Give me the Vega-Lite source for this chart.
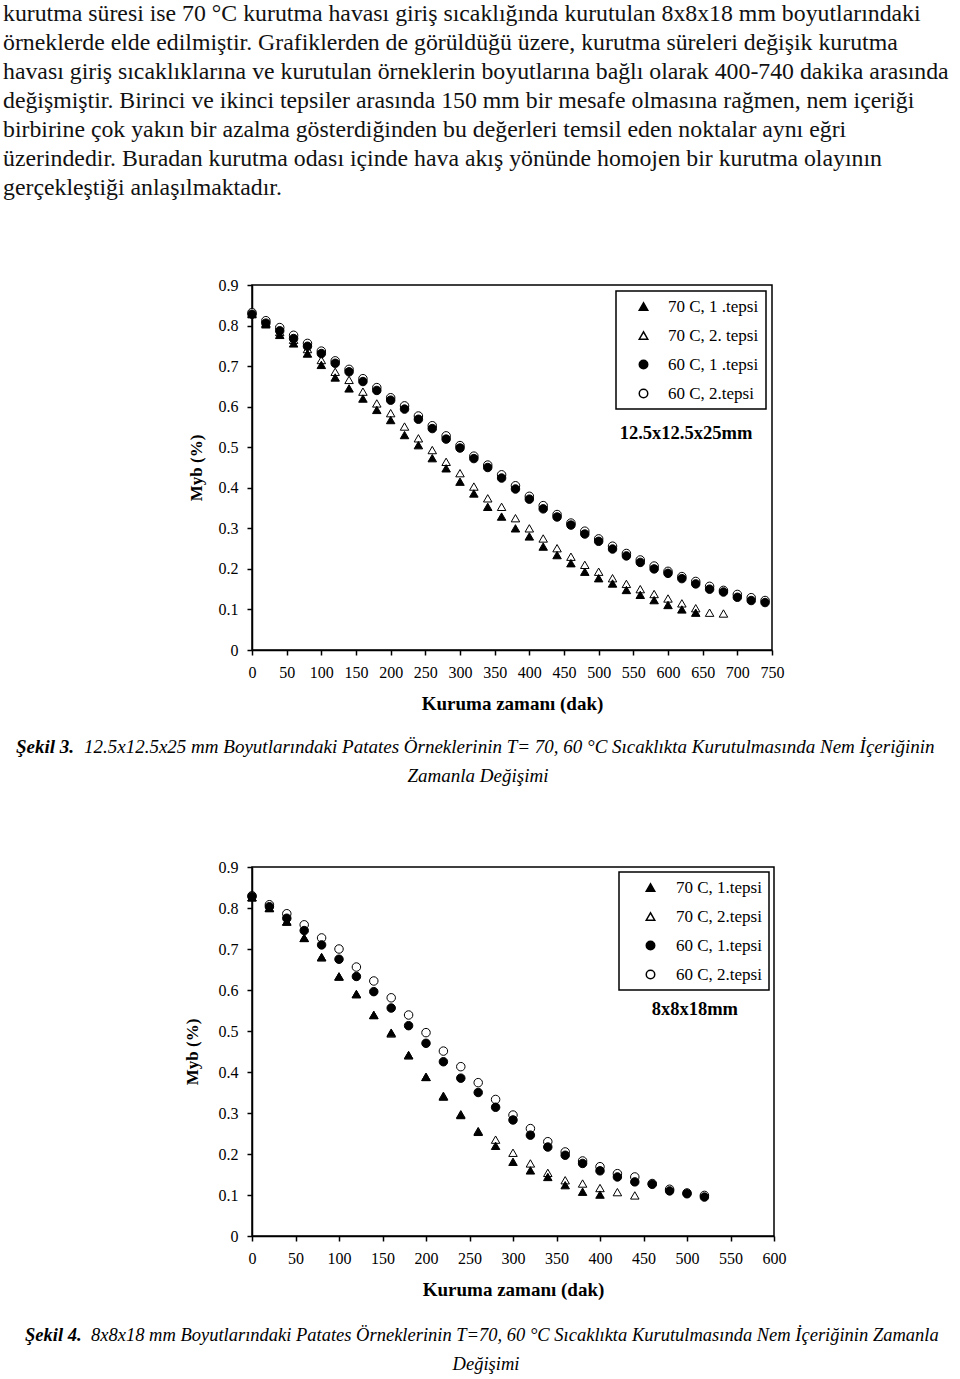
{
  "$schema": "https://vega.github.io/schema/vega-lite/v6.json",
  "padding": {"left": 3, "top": 0, "right": 0, "bottom": 0},
  "background": "white",
  "bounds": "flush",
  "spacing": 0,
  "config": {
    "font": "Liberation Serif",
    "view": {"stroke": null},
    "axis": {"domainColor": "black", "domainWidth": 1.5, "tickColor": "black", "tickWidth": 1.5, "tickSize": 5, "labelColor": "black", "labelFont": "Liberation Serif", "labelFontSize": 16, "titleFont": "Liberation Serif", "titleFontSize": 19, "titleFontWeight": "bold", "titleColor": "black", "grid": false, "labelFlush": false, "labelOverlap": false},
    "legend": {"strokeWidth": 1.5}
  },
  "resolve": {
    "scale": {"x": "independent", "y": "independent", "shape": "independent", "fill": "independent", "stroke": "independent"},
    "legend": {"shape": "independent", "fill": "independent", "stroke": "independent"}
  },
  "datasets": {
    "c1": [
      {"s": "70 C, 2. tepsi", "t": 0, "m": 0.830}, {"s": "70 C, 2. tepsi", "t": 20, "m": 0.806}, {"s": "70 C, 2. tepsi", "t": 40, "m": 0.784}, {"s": "70 C, 2. tepsi", "t": 60, "m": 0.765}, {"s": "70 C, 2. tepsi", "t": 80, "m": 0.742}, {"s": "70 C, 2. tepsi", "t": 100, "m": 0.715}, {"s": "70 C, 2. tepsi", "t": 120, "m": 0.686}, {"s": "70 C, 2. tepsi", "t": 140, "m": 0.666}, {"s": "70 C, 2. tepsi", "t": 160, "m": 0.637}, {"s": "70 C, 2. tepsi", "t": 180, "m": 0.608}, {"s": "70 C, 2. tepsi", "t": 200, "m": 0.584}, {"s": "70 C, 2. tepsi", "t": 220, "m": 0.551}, {"s": "70 C, 2. tepsi", "t": 240, "m": 0.522}, {"s": "70 C, 2. tepsi", "t": 260, "m": 0.493}, {"s": "70 C, 2. tepsi", "t": 280, "m": 0.464}, {"s": "70 C, 2. tepsi", "t": 300, "m": 0.436}, {"s": "70 C, 2. tepsi", "t": 320, "m": 0.403}, {"s": "70 C, 2. tepsi", "t": 340, "m": 0.374}, {"s": "70 C, 2. tepsi", "t": 360, "m": 0.353}, {"s": "70 C, 2. tepsi", "t": 380, "m": 0.325}, {"s": "70 C, 2. tepsi", "t": 400, "m": 0.300}, {"s": "70 C, 2. tepsi", "t": 420, "m": 0.275}, {"s": "70 C, 2. tepsi", "t": 440, "m": 0.251}, {"s": "70 C, 2. tepsi", "t": 460, "m": 0.230}, {"s": "70 C, 2. tepsi", "t": 480, "m": 0.210}, {"s": "70 C, 2. tepsi", "t": 500, "m": 0.193}, {"s": "70 C, 2. tepsi", "t": 520, "m": 0.177}, {"s": "70 C, 2. tepsi", "t": 540, "m": 0.163}, {"s": "70 C, 2. tepsi", "t": 560, "m": 0.150}, {"s": "70 C, 2. tepsi", "t": 580, "m": 0.138}, {"s": "70 C, 2. tepsi", "t": 600, "m": 0.127}, {"s": "70 C, 2. tepsi", "t": 620, "m": 0.115}, {"s": "70 C, 2. tepsi", "t": 640, "m": 0.103}, {"s": "70 C, 2. tepsi", "t": 660, "m": 0.092}, {"s": "70 C, 2. tepsi", "t": 680, "m": 0.090},
      {"s": "70 C, 1 .tepsi", "t": 0, "m": 0.828}, {"s": "70 C, 1 .tepsi", "t": 20, "m": 0.803}, {"s": "70 C, 1 .tepsi", "t": 40, "m": 0.777}, {"s": "70 C, 1 .tepsi", "t": 60, "m": 0.756}, {"s": "70 C, 1 .tepsi", "t": 80, "m": 0.731}, {"s": "70 C, 1 .tepsi", "t": 100, "m": 0.703}, {"s": "70 C, 1 .tepsi", "t": 120, "m": 0.672}, {"s": "70 C, 1 .tepsi", "t": 140, "m": 0.645}, {"s": "70 C, 1 .tepsi", "t": 160, "m": 0.620}, {"s": "70 C, 1 .tepsi", "t": 180, "m": 0.592}, {"s": "70 C, 1 .tepsi", "t": 200, "m": 0.567}, {"s": "70 C, 1 .tepsi", "t": 220, "m": 0.530}, {"s": "70 C, 1 .tepsi", "t": 240, "m": 0.505}, {"s": "70 C, 1 .tepsi", "t": 260, "m": 0.473}, {"s": "70 C, 1 .tepsi", "t": 280, "m": 0.448}, {"s": "70 C, 1 .tepsi", "t": 300, "m": 0.415}, {"s": "70 C, 1 .tepsi", "t": 320, "m": 0.386}, {"s": "70 C, 1 .tepsi", "t": 340, "m": 0.353}, {"s": "70 C, 1 .tepsi", "t": 360, "m": 0.329}, {"s": "70 C, 1 .tepsi", "t": 380, "m": 0.300}, {"s": "70 C, 1 .tepsi", "t": 400, "m": 0.280}, {"s": "70 C, 1 .tepsi", "t": 420, "m": 0.255}, {"s": "70 C, 1 .tepsi", "t": 440, "m": 0.234}, {"s": "70 C, 1 .tepsi", "t": 460, "m": 0.214}, {"s": "70 C, 1 .tepsi", "t": 480, "m": 0.193}, {"s": "70 C, 1 .tepsi", "t": 500, "m": 0.177}, {"s": "70 C, 1 .tepsi", "t": 520, "m": 0.164}, {"s": "70 C, 1 .tepsi", "t": 540, "m": 0.148}, {"s": "70 C, 1 .tepsi", "t": 560, "m": 0.136}, {"s": "70 C, 1 .tepsi", "t": 580, "m": 0.123}, {"s": "70 C, 1 .tepsi", "t": 600, "m": 0.111}, {"s": "70 C, 1 .tepsi", "t": 620, "m": 0.100}, {"s": "70 C, 1 .tepsi", "t": 640, "m": 0.092},
      {"s": "60 C, 2.tepsi", "t": 0, "m": 0.832}, {"s": "60 C, 2.tepsi", "t": 20, "m": 0.812}, {"s": "60 C, 2.tepsi", "t": 40, "m": 0.795}, {"s": "60 C, 2.tepsi", "t": 60, "m": 0.776}, {"s": "60 C, 2.tepsi", "t": 80, "m": 0.756}, {"s": "60 C, 2.tepsi", "t": 100, "m": 0.737}, {"s": "60 C, 2.tepsi", "t": 120, "m": 0.713}, {"s": "60 C, 2.tepsi", "t": 140, "m": 0.692}, {"s": "60 C, 2.tepsi", "t": 160, "m": 0.669}, {"s": "60 C, 2.tepsi", "t": 180, "m": 0.647}, {"s": "60 C, 2.tepsi", "t": 200, "m": 0.622}, {"s": "60 C, 2.tepsi", "t": 220, "m": 0.602}, {"s": "60 C, 2.tepsi", "t": 240, "m": 0.577}, {"s": "60 C, 2.tepsi", "t": 260, "m": 0.553}, {"s": "60 C, 2.tepsi", "t": 280, "m": 0.528}, {"s": "60 C, 2.tepsi", "t": 300, "m": 0.504}, {"s": "60 C, 2.tepsi", "t": 320, "m": 0.478}, {"s": "60 C, 2.tepsi", "t": 340, "m": 0.456}, {"s": "60 C, 2.tepsi", "t": 360, "m": 0.432}, {"s": "60 C, 2.tepsi", "t": 380, "m": 0.405}, {"s": "60 C, 2.tepsi", "t": 400, "m": 0.379}, {"s": "60 C, 2.tepsi", "t": 420, "m": 0.356}, {"s": "60 C, 2.tepsi", "t": 440, "m": 0.334}, {"s": "60 C, 2.tepsi", "t": 460, "m": 0.313}, {"s": "60 C, 2.tepsi", "t": 480, "m": 0.293}, {"s": "60 C, 2.tepsi", "t": 500, "m": 0.274}, {"s": "60 C, 2.tepsi", "t": 520, "m": 0.256}, {"s": "60 C, 2.tepsi", "t": 540, "m": 0.238}, {"s": "60 C, 2.tepsi", "t": 560, "m": 0.222}, {"s": "60 C, 2.tepsi", "t": 580, "m": 0.207}, {"s": "60 C, 2.tepsi", "t": 600, "m": 0.194}, {"s": "60 C, 2.tepsi", "t": 620, "m": 0.181}, {"s": "60 C, 2.tepsi", "t": 640, "m": 0.169}, {"s": "60 C, 2.tepsi", "t": 660, "m": 0.157}, {"s": "60 C, 2.tepsi", "t": 680, "m": 0.147}, {"s": "60 C, 2.tepsi", "t": 700, "m": 0.137}, {"s": "60 C, 2.tepsi", "t": 720, "m": 0.129}, {"s": "60 C, 2.tepsi", "t": 740, "m": 0.122},
      {"s": "60 C, 1 .tepsi", "t": 0, "m": 0.828}, {"s": "60 C, 1 .tepsi", "t": 20, "m": 0.806}, {"s": "60 C, 1 .tepsi", "t": 40, "m": 0.787}, {"s": "60 C, 1 .tepsi", "t": 60, "m": 0.768}, {"s": "60 C, 1 .tepsi", "t": 80, "m": 0.749}, {"s": "60 C, 1 .tepsi", "t": 100, "m": 0.731}, {"s": "60 C, 1 .tepsi", "t": 120, "m": 0.707}, {"s": "60 C, 1 .tepsi", "t": 140, "m": 0.686}, {"s": "60 C, 1 .tepsi", "t": 160, "m": 0.662}, {"s": "60 C, 1 .tepsi", "t": 180, "m": 0.640}, {"s": "60 C, 1 .tepsi", "t": 200, "m": 0.616}, {"s": "60 C, 1 .tepsi", "t": 220, "m": 0.594}, {"s": "60 C, 1 .tepsi", "t": 240, "m": 0.569}, {"s": "60 C, 1 .tepsi", "t": 260, "m": 0.546}, {"s": "60 C, 1 .tepsi", "t": 280, "m": 0.520}, {"s": "60 C, 1 .tepsi", "t": 300, "m": 0.498}, {"s": "60 C, 1 .tepsi", "t": 320, "m": 0.472}, {"s": "60 C, 1 .tepsi", "t": 340, "m": 0.450}, {"s": "60 C, 1 .tepsi", "t": 360, "m": 0.424}, {"s": "60 C, 1 .tepsi", "t": 380, "m": 0.397}, {"s": "60 C, 1 .tepsi", "t": 400, "m": 0.372}, {"s": "60 C, 1 .tepsi", "t": 420, "m": 0.348}, {"s": "60 C, 1 .tepsi", "t": 440, "m": 0.328}, {"s": "60 C, 1 .tepsi", "t": 460, "m": 0.308}, {"s": "60 C, 1 .tepsi", "t": 480, "m": 0.286}, {"s": "60 C, 1 .tepsi", "t": 500, "m": 0.268}, {"s": "60 C, 1 .tepsi", "t": 520, "m": 0.249}, {"s": "60 C, 1 .tepsi", "t": 540, "m": 0.232}, {"s": "60 C, 1 .tepsi", "t": 560, "m": 0.216}, {"s": "60 C, 1 .tepsi", "t": 580, "m": 0.200}, {"s": "60 C, 1 .tepsi", "t": 600, "m": 0.189}, {"s": "60 C, 1 .tepsi", "t": 620, "m": 0.176}, {"s": "60 C, 1 .tepsi", "t": 640, "m": 0.163}, {"s": "60 C, 1 .tepsi", "t": 660, "m": 0.150}, {"s": "60 C, 1 .tepsi", "t": 680, "m": 0.143}, {"s": "60 C, 1 .tepsi", "t": 700, "m": 0.130}, {"s": "60 C, 1 .tepsi", "t": 720, "m": 0.122}, {"s": "60 C, 1 .tepsi", "t": 740, "m": 0.117}
    ],
    "c2": [
      {"s": "70 C, 2.tepsi", "t": 0, "m": 0.826}, {"s": "70 C, 2.tepsi", "t": 20, "m": 0.800}, {"s": "70 C, 2.tepsi", "t": 40, "m": 0.767}, {"s": "70 C, 2.tepsi", "t": 60, "m": 0.727}, {"s": "70 C, 2.tepsi", "t": 80, "m": 0.680}, {"s": "70 C, 2.tepsi", "t": 100, "m": 0.633}, {"s": "70 C, 2.tepsi", "t": 120, "m": 0.590}, {"s": "70 C, 2.tepsi", "t": 140, "m": 0.539}, {"s": "70 C, 2.tepsi", "t": 160, "m": 0.494}, {"s": "70 C, 2.tepsi", "t": 180, "m": 0.441}, {"s": "70 C, 2.tepsi", "t": 200, "m": 0.388}, {"s": "70 C, 2.tepsi", "t": 220, "m": 0.342}, {"s": "70 C, 2.tepsi", "t": 240, "m": 0.297}, {"s": "70 C, 2.tepsi", "t": 260, "m": 0.256}, {"s": "70 C, 2.tepsi", "t": 280, "m": 0.235}, {"s": "70 C, 2.tepsi", "t": 300, "m": 0.203}, {"s": "70 C, 2.tepsi", "t": 320, "m": 0.177}, {"s": "70 C, 2.tepsi", "t": 340, "m": 0.154}, {"s": "70 C, 2.tepsi", "t": 360, "m": 0.136}, {"s": "70 C, 2.tepsi", "t": 380, "m": 0.128}, {"s": "70 C, 2.tepsi", "t": 400, "m": 0.117}, {"s": "70 C, 2.tepsi", "t": 420, "m": 0.107}, {"s": "70 C, 2.tepsi", "t": 440, "m": 0.099},
      {"s": "70 C, 1.tepsi", "t": 0, "m": 0.826}, {"s": "70 C, 1.tepsi", "t": 20, "m": 0.800}, {"s": "70 C, 1.tepsi", "t": 40, "m": 0.767}, {"s": "70 C, 1.tepsi", "t": 60, "m": 0.727}, {"s": "70 C, 1.tepsi", "t": 80, "m": 0.680}, {"s": "70 C, 1.tepsi", "t": 100, "m": 0.633}, {"s": "70 C, 1.tepsi", "t": 120, "m": 0.590}, {"s": "70 C, 1.tepsi", "t": 140, "m": 0.539}, {"s": "70 C, 1.tepsi", "t": 160, "m": 0.496}, {"s": "70 C, 1.tepsi", "t": 180, "m": 0.441}, {"s": "70 C, 1.tepsi", "t": 200, "m": 0.388}, {"s": "70 C, 1.tepsi", "t": 220, "m": 0.340}, {"s": "70 C, 1.tepsi", "t": 240, "m": 0.295}, {"s": "70 C, 1.tepsi", "t": 260, "m": 0.254}, {"s": "70 C, 1.tepsi", "t": 280, "m": 0.220}, {"s": "70 C, 1.tepsi", "t": 300, "m": 0.181}, {"s": "70 C, 1.tepsi", "t": 320, "m": 0.160}, {"s": "70 C, 1.tepsi", "t": 340, "m": 0.144}, {"s": "70 C, 1.tepsi", "t": 360, "m": 0.124}, {"s": "70 C, 1.tepsi", "t": 380, "m": 0.108}, {"s": "70 C, 1.tepsi", "t": 400, "m": 0.101},
      {"s": "60 C, 2.tepsi", "t": 0, "m": 0.830}, {"s": "60 C, 2.tepsi", "t": 20, "m": 0.808}, {"s": "60 C, 2.tepsi", "t": 40, "m": 0.786}, {"s": "60 C, 2.tepsi", "t": 60, "m": 0.759}, {"s": "60 C, 2.tepsi", "t": 80, "m": 0.727}, {"s": "60 C, 2.tepsi", "t": 100, "m": 0.700}, {"s": "60 C, 2.tepsi", "t": 120, "m": 0.656}, {"s": "60 C, 2.tepsi", "t": 140, "m": 0.622}, {"s": "60 C, 2.tepsi", "t": 160, "m": 0.581}, {"s": "60 C, 2.tepsi", "t": 180, "m": 0.539}, {"s": "60 C, 2.tepsi", "t": 200, "m": 0.496}, {"s": "60 C, 2.tepsi", "t": 220, "m": 0.451}, {"s": "60 C, 2.tepsi", "t": 240, "m": 0.413}, {"s": "60 C, 2.tepsi", "t": 260, "m": 0.374}, {"s": "60 C, 2.tepsi", "t": 280, "m": 0.333}, {"s": "60 C, 2.tepsi", "t": 300, "m": 0.295}, {"s": "60 C, 2.tepsi", "t": 320, "m": 0.262}, {"s": "60 C, 2.tepsi", "t": 340, "m": 0.230}, {"s": "60 C, 2.tepsi", "t": 360, "m": 0.205}, {"s": "60 C, 2.tepsi", "t": 380, "m": 0.183}, {"s": "60 C, 2.tepsi", "t": 400, "m": 0.169}, {"s": "60 C, 2.tepsi", "t": 420, "m": 0.152}, {"s": "60 C, 2.tepsi", "t": 440, "m": 0.144}, {"s": "60 C, 2.tepsi", "t": 460, "m": 0.128}, {"s": "60 C, 2.tepsi", "t": 480, "m": 0.114}, {"s": "60 C, 2.tepsi", "t": 500, "m": 0.105}, {"s": "60 C, 2.tepsi", "t": 520, "m": 0.099},
      {"s": "60 C, 1.tepsi", "t": 0, "m": 0.828}, {"s": "60 C, 1.tepsi", "t": 20, "m": 0.803}, {"s": "60 C, 1.tepsi", "t": 40, "m": 0.775}, {"s": "60 C, 1.tepsi", "t": 60, "m": 0.745}, {"s": "60 C, 1.tepsi", "t": 80, "m": 0.710}, {"s": "60 C, 1.tepsi", "t": 100, "m": 0.675}, {"s": "60 C, 1.tepsi", "t": 120, "m": 0.633}, {"s": "60 C, 1.tepsi", "t": 140, "m": 0.596}, {"s": "60 C, 1.tepsi", "t": 160, "m": 0.556}, {"s": "60 C, 1.tepsi", "t": 180, "m": 0.513}, {"s": "60 C, 1.tepsi", "t": 200, "m": 0.470}, {"s": "60 C, 1.tepsi", "t": 220, "m": 0.425}, {"s": "60 C, 1.tepsi", "t": 240, "m": 0.385}, {"s": "60 C, 1.tepsi", "t": 260, "m": 0.350}, {"s": "60 C, 1.tepsi", "t": 280, "m": 0.314}, {"s": "60 C, 1.tepsi", "t": 300, "m": 0.283}, {"s": "60 C, 1.tepsi", "t": 320, "m": 0.246}, {"s": "60 C, 1.tepsi", "t": 340, "m": 0.217}, {"s": "60 C, 1.tepsi", "t": 360, "m": 0.197}, {"s": "60 C, 1.tepsi", "t": 380, "m": 0.177}, {"s": "60 C, 1.tepsi", "t": 400, "m": 0.159}, {"s": "60 C, 1.tepsi", "t": 420, "m": 0.144}, {"s": "60 C, 1.tepsi", "t": 440, "m": 0.132}, {"s": "60 C, 1.tepsi", "t": 460, "m": 0.126}, {"s": "60 C, 1.tepsi", "t": 480, "m": 0.110}, {"s": "60 C, 1.tepsi", "t": 500, "m": 0.103}, {"s": "60 C, 1.tepsi", "t": 520, "m": 0.095}
    ]
  },
  "vconcat": [
    {
      "width": 520, "height": 285,
      "data": {"values": [
        {"line": 1, "text": "kurutma süresi ise 70 °C kurutma havası giriş sıcaklığında kurutulan 8x8x18 mm boyutlarındaki"},
        {"line": 2, "text": "örneklerde elde edilmiştir. Grafiklerden de görüldüğü üzere, kurutma süreleri değişik kurutma"},
        {"line": 3, "text": "havası giriş sıcaklıklarına ve kurutulan örneklerin boyutlarına bağlı olarak 400-740 dakika arasında"},
        {"line": 4, "text": "değişmiştir. Birinci ve ikinci tepsiler arasında 150 mm bir mesafe olmasına rağmen, nem içeriği"},
        {"line": 5, "text": "birbirine çok yakın bir azalma gösterdiğinden bu değerleri temsil eden noktalar aynı eğri"},
        {"line": 6, "text": "üzerindedir. Buradan kurutma odası içinde hava akış yönünde homojen bir kurutma olayının"},
        {"line": 7, "text": "gerçekleştiği anlaşılmaktadır."}
      ]},
      "mark": {"type": "text", "align": "left", "baseline": "middle", "font": "Liberation Serif", "fontSize": 23.8, "color": "#111111"},
      "encoding": {
        "x": {"datum": 3, "type": "quantitative", "scale": {"domain": [252, 772], "nice": false, "zero": false}, "axis": null},
        "y": {"field": "line", "type": "quantitative", "scale": {"domain": [0.517, 10.345], "reverse": true, "nice": false, "zero": false}, "axis": null},
        "text": {"field": "text"}
      }
    },
    {
      "width": 520, "height": 365,
      "view": {"stroke": "black", "strokeWidth": 1.5},
      "encoding": {
        "x": {"field": "t", "type": "quantitative", "scale": {"domain": [0, 750], "nice": false, "zero": false}, "axis": {"values": [0, 50, 100, 150, 200, 250, 300, 350, 400, 450, 500, 550, 600, 650, 700, 750], "title": "Kuruma zamanı (dak)", "labelPadding": 9, "titlePadding": 14}},
        "y": {"field": "m", "type": "quantitative", "scale": {"domain": [0, 0.9], "nice": false}, "axis": {"values": [0, 0.1, 0.2, 0.3, 0.4, 0.5, 0.6, 0.7, 0.8, 0.9], "format": "~g", "title": "Myb (%)", "titleFontSize": 17, "labelPadding": 9, "titlePadding": 13}}
      },
      "layer": [
        {
          "data": {"name": "c1"},
          "mark": {"type": "point", "filled": true, "strokeWidth": 1, "size": 72, "opacity": 1},
          "encoding": {
            "shape": {"field": "s", "type": "nominal", "scale": {"domain": ["70 C, 1 .tepsi", "70 C, 2. tepsi", "60 C, 1 .tepsi", "60 C, 2.tepsi"], "range": ["triangle-up", "triangle-up", "circle", "circle"]}, "legend": {"title": null, "orient": "top-right", "offset": 6, "strokeColor": "black", "fillColor": "white", "padding": 7, "rowPadding": 11, "symbolOffset": 12, "labelOffset": 16, "labelFont": "Liberation Serif", "labelFontSize": 17, "labelColor": "black", "symbolSize": 72}},
            "fill": {"field": "s", "type": "nominal", "scale": {"domain": ["70 C, 1 .tepsi", "70 C, 2. tepsi", "60 C, 1 .tepsi", "60 C, 2.tepsi"], "range": ["black", "white", "black", "white"]}, "legend": {"title": null, "orient": "top-right", "offset": 6, "strokeColor": "black", "fillColor": "white", "padding": 7, "rowPadding": 11, "symbolOffset": 12, "labelOffset": 16, "labelFont": "Liberation Serif", "labelFontSize": 17, "labelColor": "black", "symbolSize": 72}},
            "stroke": {"field": "s", "type": "nominal", "scale": {"domain": ["70 C, 1 .tepsi", "70 C, 2. tepsi", "60 C, 1 .tepsi", "60 C, 2.tepsi"], "range": ["black", "black", "black", "black"]}, "legend": {"title": null, "orient": "top-right", "offset": 6, "strokeColor": "black", "fillColor": "white", "padding": 7, "rowPadding": 11, "symbolOffset": 12, "labelOffset": 16, "labelFont": "Liberation Serif", "labelFontSize": 17, "labelColor": "black", "symbolSize": 72}}
          }
        },
        {
          "data": {"values": [{"t": 626, "m": 0.535, "label": "12.5x12.5x25mm"}]},
          "mark": {"type": "text", "font": "Liberation Serif", "fontWeight": "bold", "fontSize": 18.5, "color": "black"},
          "encoding": {"text": {"field": "label"}}
        }
      ]
    },
    {
      "width": 520, "height": 217,
      "encoding": {
        "y": {"field": "line", "type": "quantitative", "scale": {"domain": [-2.345, 5.138], "reverse": true, "nice": false, "zero": false}, "axis": null},
        "text": {"field": "text"}
      },
      "layer": [
        {
          "data": {"values": [{"line": 1, "text": "Şekil 3."}]},
          "mark": {"type": "text", "align": "left", "baseline": "middle", "font": "Liberation Serif", "fontSize": 19, "fontStyle": "italic", "fontWeight": "bold", "color": "black"},
          "encoding": {"x": {"datum": 16, "type": "quantitative", "scale": {"domain": [252, 772], "nice": false, "zero": false}, "axis": null}}
        },
        {
          "data": {"values": [{"line": 1, "text": "12.5x12.5x25 mm Boyutlarındaki Patates Örneklerinin T= 70, 60 °C Sıcaklıkta Kurutulmasında Nem İçeriğinin"}]},
          "mark": {"type": "text", "align": "left", "baseline": "middle", "font": "Liberation Serif", "fontSize": 19, "fontStyle": "italic", "color": "black"},
          "encoding": {"x": {"datum": 84, "type": "quantitative", "scale": {"domain": [252, 772], "nice": false, "zero": false}, "axis": null}}
        },
        {
          "data": {"values": [{"line": 2, "text": "Zamanla Değişimi"}]},
          "mark": {"type": "text", "align": "center", "baseline": "middle", "font": "Liberation Serif", "fontSize": 19, "fontStyle": "italic", "color": "black"},
          "encoding": {"x": {"datum": 478, "type": "quantitative", "scale": {"domain": [252, 772], "nice": false, "zero": false}, "axis": null}}
        }
      ]
    },
    {
      "width": 522, "height": 369,
      "view": {"stroke": "black", "strokeWidth": 1.5},
      "encoding": {
        "x": {"field": "t", "type": "quantitative", "scale": {"domain": [0, 600], "nice": false, "zero": false}, "axis": {"values": [0, 50, 100, 150, 200, 250, 300, 350, 400, 450, 500, 550, 600], "title": "Kuruma zamanı (dak)", "labelPadding": 9, "titlePadding": 14}},
        "y": {"field": "m", "type": "quantitative", "scale": {"domain": [0, 0.9], "nice": false}, "axis": {"values": [0, 0.1, 0.2, 0.3, 0.4, 0.5, 0.6, 0.7, 0.8, 0.9], "format": "~g", "title": "Myb (%)", "titleFontSize": 17, "labelPadding": 9, "titlePadding": 17}}
      },
      "layer": [
        {
          "data": {"name": "c2"},
          "mark": {"type": "point", "filled": true, "strokeWidth": 1, "size": 72, "opacity": 1},
          "encoding": {
            "shape": {"field": "s", "type": "nominal", "scale": {"domain": ["70 C, 1.tepsi", "70 C, 2.tepsi", "60 C, 1.tepsi", "60 C, 2.tepsi"], "range": ["triangle-up", "triangle-up", "circle", "circle"]}, "legend": {"title": null, "orient": "top-right", "offset": 5, "strokeColor": "black", "fillColor": "white", "padding": 7, "rowPadding": 11, "symbolOffset": 16, "labelOffset": 17, "labelFont": "Liberation Serif", "labelFontSize": 17, "labelColor": "black", "symbolSize": 72}},
            "fill": {"field": "s", "type": "nominal", "scale": {"domain": ["70 C, 1.tepsi", "70 C, 2.tepsi", "60 C, 1.tepsi", "60 C, 2.tepsi"], "range": ["black", "white", "black", "white"]}, "legend": {"title": null, "orient": "top-right", "offset": 5, "strokeColor": "black", "fillColor": "white", "padding": 7, "rowPadding": 11, "symbolOffset": 16, "labelOffset": 17, "labelFont": "Liberation Serif", "labelFontSize": 17, "labelColor": "black", "symbolSize": 72}},
            "stroke": {"field": "s", "type": "nominal", "scale": {"domain": ["70 C, 1.tepsi", "70 C, 2.tepsi", "60 C, 1.tepsi", "60 C, 2.tepsi"], "range": ["black", "black", "black", "black"]}, "legend": {"title": null, "orient": "top-right", "offset": 5, "strokeColor": "black", "fillColor": "white", "padding": 7, "rowPadding": 11, "symbolOffset": 16, "labelOffset": 17, "labelFont": "Liberation Serif", "labelFontSize": 17, "labelColor": "black", "symbolSize": 72}}
          }
        },
        {
          "data": {"values": [{"t": 509, "m": 0.554, "label": "8x8x18mm"}]},
          "mark": {"type": "text", "font": "Liberation Serif", "fontWeight": "bold", "fontSize": 18.5, "color": "black"},
          "encoding": {"text": {"field": "label"}}
        }
      ]
    },
    {
      "width": 520, "height": 143,
      "encoding": {
        "y": {"field": "line", "type": "quantitative", "scale": {"domain": [-2.414, 2.517], "reverse": true, "nice": false, "zero": false}, "axis": null},
        "text": {"field": "text"}
      },
      "layer": [
        {
          "data": {"values": [{"line": 1, "text": "Şekil 4."}]},
          "mark": {"type": "text", "align": "left", "baseline": "middle", "font": "Liberation Serif", "fontSize": 18.5, "fontStyle": "italic", "fontWeight": "bold", "color": "black"},
          "encoding": {"x": {"datum": 25, "type": "quantitative", "scale": {"domain": [252, 772], "nice": false, "zero": false}, "axis": null}}
        },
        {
          "data": {"values": [{"line": 1, "text": "8x8x18 mm Boyutlarındaki Patates Örneklerinin T=70, 60 °C Sıcaklıkta Kurutulmasında Nem İçeriğinin Zamanla"}]},
          "mark": {"type": "text", "align": "left", "baseline": "middle", "font": "Liberation Serif", "fontSize": 18.5, "fontStyle": "italic", "color": "black"},
          "encoding": {"x": {"datum": 91, "type": "quantitative", "scale": {"domain": [252, 772], "nice": false, "zero": false}, "axis": null}}
        },
        {
          "data": {"values": [{"line": 2, "text": "Değişimi"}]},
          "mark": {"type": "text", "align": "center", "baseline": "middle", "font": "Liberation Serif", "fontSize": 18.5, "fontStyle": "italic", "color": "black"},
          "encoding": {"x": {"datum": 486, "type": "quantitative", "scale": {"domain": [252, 772], "nice": false, "zero": false}, "axis": null}}
        }
      ]
    }
  ]
}
